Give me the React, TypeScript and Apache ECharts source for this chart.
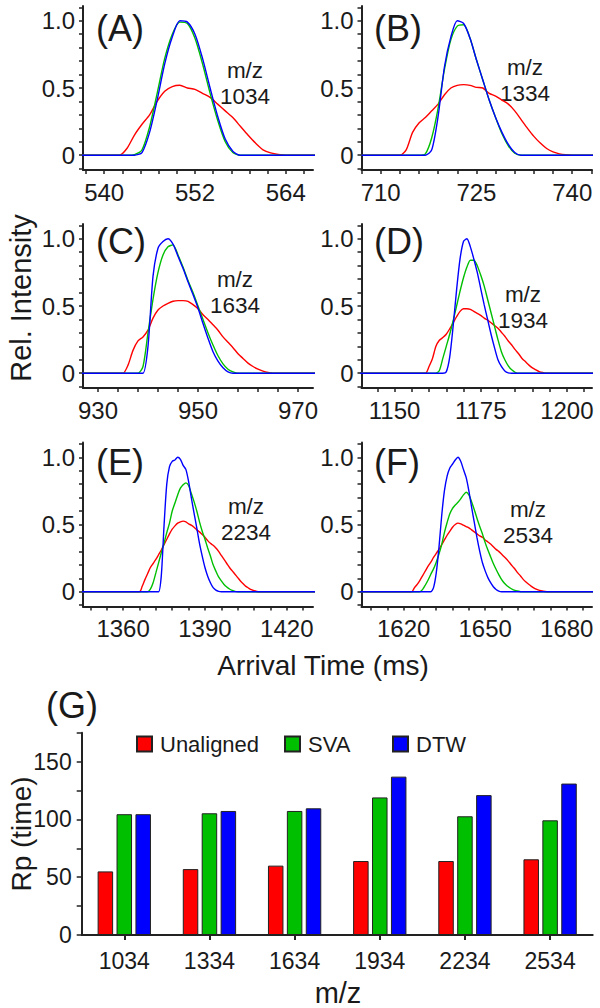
import React, { useEffect, useRef } from "react";
import * as echarts from "echarts";

const FONT = '"Liberation Sans", Arial, Helvetica, sans-serif';
const TXT = "#1a1a1a";
const AXIS = "#222222";
const RED = "#ff0000";
const GREEN = "#00bf00";
const BLUE = "#0000ff";

// ---------- Panels A–F: arrival time distributions ----------
const panelTitles = ["(A)", "(B)", "(C)", "(D)", "(E)", "(F)"];
const panelMz = ["1034", "1334", "1634", "1934", "2234", "2534"];

const xA = [537, 542, 543, 544, 545, 546, 547, 548, 549, 550, 551, 552, 553, 554, 555, 556, 557, 558, 559, 560, 561, 562, 563, 564, 568];
const redA = [0, 0, 0.05, 0.15, 0.23, 0.3, 0.4, 0.475, 0.51, 0.52, 0.5, 0.49, 0.46, 0.43, 0.38, 0.33, 0.28, 0.215, 0.15, 0.09, 0.04, 0.017, 0.005, 0, 0];
const greenA = [0, 0, 0, 0.005, 0.04, 0.21, 0.46, 0.72, 0.9, 0.99, 0.98, 0.87, 0.68, 0.46, 0.26, 0.1, 0.02, 0, 0, 0, 0, 0, 0, 0, 0];
const blueA = [0, 0, 0, 0, 0.02, 0.17, 0.41, 0.68, 0.88, 1.0, 0.99, 0.9, 0.72, 0.5, 0.29, 0.12, 0.03, 0, 0, 0, 0, 0, 0, 0, 0];

const xB = [707, 712, 713, 714, 715, 716, 717, 718, 719, 720, 721, 722, 723, 724, 725, 726, 727, 728, 729, 730, 731, 732, 733, 734, 735, 736, 737, 738, 739, 740, 741, 744];
const redB = [0, 0, 0, 0.04, 0.17, 0.24, 0.28, 0.33, 0.38, 0.45, 0.5, 0.52, 0.525, 0.52, 0.505, 0.5, 0.46, 0.44, 0.41, 0.38, 0.33, 0.265, 0.2, 0.14, 0.09, 0.05, 0.025, 0.01, 0.003, 0, 0, 0];
const greenB = [0, 0, 0, 0, 0, 0, 0.01, 0.13, 0.35, 0.64, 0.86, 0.96, 0.97, 0.87, 0.71, 0.56, 0.41, 0.28, 0.16, 0.07, 0.015, 0, 0, 0, 0, 0, 0, 0, 0, 0, 0, 0];
const blueB = [0, 0, 0, 0, 0, 0, 0, 0.04, 0.29, 0.66, 0.88, 1.0, 0.98, 0.87, 0.71, 0.56, 0.41, 0.28, 0.17, 0.08, 0.02, 0, 0, 0, 0, 0, 0, 0, 0, 0, 0, 0];

const xC = [926, 934, 935, 936, 937, 938, 939, 940, 941, 942, 943, 944, 945, 946, 947, 948, 949, 950, 951, 952, 953, 954, 955, 956, 957, 958, 959, 960, 961, 962, 963, 964, 965, 966, 974];
const redC = [0, 0, 0, 0.06, 0.17, 0.24, 0.27, 0.32, 0.41, 0.47, 0.5, 0.52, 0.535, 0.54, 0.54, 0.535, 0.51, 0.48, 0.435, 0.4, 0.36, 0.32, 0.27, 0.23, 0.19, 0.145, 0.11, 0.075, 0.05, 0.03, 0.015, 0.005, 0, 0, 0];
const greenC = [0, 0, 0, 0, 0, 0, 0.05, 0.3, 0.55, 0.75, 0.88, 0.94, 0.955, 0.88, 0.79, 0.69, 0.6, 0.5, 0.4, 0.3, 0.21, 0.13, 0.07, 0.03, 0.01, 0, 0, 0, 0, 0, 0, 0, 0, 0, 0];
const blueC = [0, 0, 0, 0, 0, 0, 0, 0.2, 0.72, 0.93, 0.98, 1.0, 0.96, 0.87, 0.78, 0.68, 0.585, 0.485, 0.37, 0.26, 0.16, 0.09, 0.04, 0.01, 0, 0, 0, 0, 0, 0, 0, 0, 0, 0, 0];

const xD = [1140, 1158, 1159, 1160, 1161, 1162, 1163, 1164, 1165, 1166, 1167, 1168, 1169, 1170, 1171, 1172, 1173, 1174, 1175, 1176, 1177, 1178, 1179, 1180, 1181, 1182, 1183, 1184, 1185, 1186, 1187, 1188, 1189, 1190, 1191, 1192, 1193, 1194, 1195, 1208];
const redD = [0, 0, 0, 0.05, 0.11, 0.2, 0.245, 0.265, 0.29, 0.33, 0.375, 0.42, 0.46, 0.48, 0.48, 0.475, 0.46, 0.445, 0.43, 0.41, 0.395, 0.375, 0.355, 0.335, 0.305, 0.275, 0.24, 0.21, 0.175, 0.145, 0.11, 0.085, 0.06, 0.04, 0.025, 0.012, 0.005, 0, 0, 0];
const greenD = [0, 0, 0, 0, 0, 0, 0.02, 0.11, 0.2, 0.29, 0.39, 0.5, 0.61, 0.71, 0.79, 0.84, 0.84, 0.8, 0.73, 0.65, 0.55, 0.45, 0.35, 0.25, 0.16, 0.1, 0.055, 0.025, 0.007, 0, 0, 0, 0, 0, 0, 0, 0, 0, 0, 0];
const blueD = [0, 0, 0, 0, 0, 0, 0, 0, 0.01, 0.12, 0.35, 0.62, 0.85, 0.98, 1.0, 0.94, 0.85, 0.75, 0.63, 0.51, 0.4, 0.29, 0.19, 0.1, 0.05, 0.017, 0.003, 0, 0, 0, 0, 0, 0, 0, 0, 0, 0, 0, 0, 0];

const xE = [1344, 1366, 1367, 1368, 1369, 1370, 1371, 1372, 1373, 1374, 1375, 1376, 1377, 1378, 1379, 1380, 1381, 1382, 1383, 1384, 1385, 1386, 1387, 1388, 1389, 1390, 1391, 1392, 1393, 1394, 1395, 1396, 1397, 1398, 1399, 1400, 1401, 1402, 1403, 1404, 1405, 1406, 1407, 1408, 1409, 1410, 1432];
const redE = [0, 0, 0.04, 0.09, 0.135, 0.18, 0.21, 0.24, 0.275, 0.31, 0.35, 0.39, 0.43, 0.465, 0.49, 0.51, 0.52, 0.525, 0.52, 0.505, 0.495, 0.48, 0.46, 0.445, 0.425, 0.405, 0.38, 0.36, 0.345, 0.325, 0.3, 0.27, 0.24, 0.21, 0.18, 0.155, 0.13, 0.105, 0.08, 0.06, 0.04, 0.027, 0.015, 0.007, 0.002, 0, 0];
const greenE = [0, 0, 0, 0, 0, 0.02, 0.067, 0.14, 0.215, 0.29, 0.36, 0.44, 0.51, 0.6, 0.66, 0.72, 0.77, 0.795, 0.81, 0.79, 0.73, 0.67, 0.6, 0.52, 0.45, 0.39, 0.325, 0.265, 0.2, 0.153, 0.11, 0.08, 0.054, 0.035, 0.02, 0.01, 0.003, 0, 0, 0, 0, 0, 0, 0, 0, 0, 0];
const blueE = [0, 0, 0, 0, 0, 0, 0, 0, 0, 0.12, 0.49, 0.8, 0.93, 0.97, 0.98, 1.0, 0.985, 0.94, 0.91, 0.82, 0.7, 0.585, 0.475, 0.36, 0.265, 0.18, 0.115, 0.067, 0.03, 0.012, 0.003, 0, 0, 0, 0, 0, 0, 0, 0, 0, 0, 0, 0, 0, 0, 0, 0];

const xF = [1604, 1622, 1623, 1624, 1625, 1626, 1627, 1628, 1629, 1630, 1631, 1632, 1633, 1634, 1635, 1636, 1637, 1638, 1639, 1640, 1641, 1642, 1643, 1644, 1645, 1646, 1647, 1648, 1649, 1650, 1651, 1652, 1653, 1654, 1655, 1656, 1657, 1658, 1659, 1660, 1661, 1662, 1663, 1664, 1665, 1666, 1667, 1668, 1669, 1670, 1671, 1672, 1673, 1690];
const redF = [0, 0, 0, 0.03, 0.055, 0.085, 0.12, 0.155, 0.19, 0.22, 0.255, 0.285, 0.315, 0.35, 0.385, 0.42, 0.45, 0.48, 0.5, 0.51, 0.505, 0.495, 0.485, 0.475, 0.46, 0.445, 0.43, 0.415, 0.405, 0.385, 0.37, 0.355, 0.335, 0.315, 0.3, 0.28, 0.26, 0.24, 0.215, 0.19, 0.167, 0.14, 0.117, 0.092, 0.072, 0.055, 0.04, 0.027, 0.017, 0.01, 0.005, 0.002, 0, 0];
const greenF = [0, 0, 0, 0, 0, 0, 0.017, 0.05, 0.087, 0.13, 0.17, 0.22, 0.28, 0.35, 0.44, 0.515, 0.58, 0.62, 0.645, 0.665, 0.69, 0.72, 0.74, 0.72, 0.67, 0.61, 0.545, 0.485, 0.43, 0.365, 0.31, 0.26, 0.21, 0.167, 0.127, 0.092, 0.065, 0.045, 0.03, 0.017, 0.01, 0.005, 0, 0, 0, 0, 0, 0, 0, 0, 0, 0, 0, 0];
const blueF = [0, 0, 0, 0, 0, 0, 0, 0, 0, 0, 0.03, 0.14, 0.33, 0.565, 0.75, 0.86, 0.92, 0.95, 0.98, 1.0, 0.97, 0.91, 0.85, 0.75, 0.63, 0.515, 0.4, 0.3, 0.215, 0.155, 0.105, 0.067, 0.037, 0.017, 0.005, 0, 0, 0, 0, 0, 0, 0, 0, 0, 0, 0, 0, 0, 0, 0, 0, 0, 0, 0];

const panelX = [xA, xB, xC, xD, xE, xF];
const panelRed = [redA, redB, redC, redD, redE, redF];
const panelGreen = [greenA, greenB, greenC, greenD, greenE, greenF];
const panelBlue = [blueA, blueB, blueC, blueD, blueE, blueF];

// axis ranges and tick labels of the six time panels
const xMins = [537.2, 707, 927, 1140.4, 1345.3, 1604.5];
const xMaxs = [567.6, 743.1, 973, 1207.3, 1429.6, 1689.3];
const xLabelValues = [
  [540, 552, 564],
  [710, 725, 740],
  [930, 950, 970],
  [1150, 1175, 1200],
  [1360, 1390, 1420],
  [1620, 1650, 1680],
];
const xTickStep = [2.4, 3, 4, 5, 6, 6];
const yLabelValues = [0, 0.5, 1.0];

// ---------- Panel G: resolving power ----------
const mzCategories = ["1034", "1334", "1634", "1934", "2234", "2534"];
const rpUnaligned = [55, 57, 60, 64, 64, 65.5];
const rpSVA = [104.5, 105.3, 107.3, 119, 102.7, 99.2];
const rpDTW = [104.5, 107.3, 109.6, 137, 121, 131];

// layout
const gridLeft = [83, 361.5, 83, 361.5, 83, 361.5];
const gridTop = [6, 6, 224, 224, 442.5, 442.5];
const gridWidth = [230, 230.5, 230, 230.5, 230, 230.5];
const GRID_H = 164;
const Y_MIN = -0.11;
const Y_MAX = 1.11;

function tickRange(anchor: number, step: number, lo: number, hi: number) {
  const out: number[] = [];
  const k0 = Math.ceil((lo - anchor) / step - 1e-9);
  const k1 = Math.floor((hi - anchor) / step + 1e-9);
  for (let k = k0; k <= k1; k++) out.push(Math.round((anchor + k * step) * 1000) / 1000);
  return out;
}

function buildOption() {
  const grid: any[] = [];
  const xAxis: any[] = [];
  const yAxis: any[] = [];
  const series: any[] = [];
  const graphic: any[] = [];

  const yTicks = tickRange(0, 0.1, Y_MIN, Y_MAX);

  for (let i = 0; i < 6; i++) {
    grid.push({ left: gridLeft[i], top: gridTop[i], width: gridWidth[i], height: GRID_H, containLabel: false });
    xAxis.push({
      type: "value",
      gridIndex: i,
      min: xMins[i],
      max: xMaxs[i],
      axisLine: { show: true, onZero: false, lineStyle: { color: AXIS, width: 2 } },
      axisTick: {
        show: true,
        inside: false,
        length: 4,
        customValues: tickRange(xLabelValues[i][0], xTickStep[i], xMins[i], xMaxs[i]),
        lineStyle: { color: AXIS, width: 1.5 },
      },
      axisLabel: {
        customValues: xLabelValues[i],
        formatter: (v: number) => String(Math.round(v)),
        margin: 10,
        fontSize: 24,
        color: TXT,
        fontFamily: FONT,
      },
      splitLine: { show: false },
    });
    yAxis.push({
      type: "value",
      gridIndex: i,
      min: Y_MIN,
      max: Y_MAX,
      axisLine: { show: true, onZero: false, lineStyle: { color: AXIS, width: 2 } },
      axisTick: {
        show: true,
        inside: false,
        length: 4,
        customValues: yTicks,
        lineStyle: { color: AXIS, width: 1.5 },
      },
      axisLabel: {
        customValues: yLabelValues,
        formatter: (v: number) => (Math.abs(v) < 1e-9 ? "0" : v.toFixed(1)),
        margin: 8,
        fontSize: 24,
        color: TXT,
        fontFamily: FONT,
      },
      splitLine: { show: false },
    });

    const xs = panelX[i];
    const mk = (ys: number[], color: string, z: number) => ({
      type: "line",
      xAxisIndex: i,
      yAxisIndex: i,
      data: xs.map((x, j) => [x, ys[j] ?? 0]),
      showSymbol: false,
      symbol: "none",
      smooth: 0.25,
      silent: true,
      z,
      lineStyle: { color, width: 1.4 },
      itemStyle: { color },
    });
    series.push(mk(panelRed[i], RED, 2));
    series.push(mk(panelGreen[i], GREEN, 3));
    series.push(mk(panelBlue[i], BLUE, 4));
  }

  // Panel G grid
  grid.push({ left: 81.7, top: 732.7, width: 511, height: 202.3, containLabel: false });
  xAxis.push({
    type: "category",
    gridIndex: 6,
    data: mzCategories,
    axisLine: { show: true, lineStyle: { color: AXIS, width: 2 } },
    axisTick: { show: true, alignWithLabel: true, length: 5, lineStyle: { color: AXIS, width: 2 } },
    axisLabel: { margin: 14, fontSize: 23, color: TXT, fontFamily: FONT },
    splitLine: { show: false },
  });
  yAxis.push({
    type: "value",
    gridIndex: 6,
    min: 0,
    max: 175,
    interval: 25,
    axisLine: { show: true, lineStyle: { color: AXIS, width: 2 } },
    axisTick: { show: true, length: 5, lineStyle: { color: AXIS, width: 1.5 } },
    axisLabel: {
      formatter: (v: number) => (v % 50 === 0 ? String(v) : ""),
      margin: 10,
      fontSize: 23,
      color: TXT,
      fontFamily: FONT,
    },
    splitLine: { show: false },
  });
  const bar = (name: string, data: number[], color: string) => ({
    type: "bar",
    name,
    xAxisIndex: 6,
    yAxisIndex: 6,
    data,
    barWidth: 15.5,
    barGap: "22%",
    itemStyle: { color, borderColor: "#222", borderWidth: 1 },
  });
  series.push(bar("Unaligned", rpUnaligned, RED));
  series.push(bar("SVA", rpSVA, GREEN));
  series.push(bar("DTW", rpDTW, BLUE));

  const legendBase = {
    orient: "horizontal",
    itemWidth: 15,
    itemHeight: 15,
    icon: "rect",
    padding: 0,
    itemGap: 0,
    top: 733,
    textStyle: { fontSize: 22, color: TXT, fontFamily: FONT, padding: [0, 0, 0, 3] },
  };
  const legend = [
    { ...legendBase, data: ["Unaligned"], left: 136 },
    { ...legendBase, data: ["SVA"], left: 284 },
    { ...legendBase, data: ["DTW"], left: 392 },
  ];

  // texts
  const titleX = [96, 374, 96, 374, 96, 374];
  const titleY = [28, 28, 241, 241, 462, 462];
  const mzX = [245, 525, 235, 523, 246, 528];
  const mzY = [83, 80, 292.5, 307.5, 519, 522.5];
  for (let i = 0; i < 6; i++) {
    graphic.push({
      type: "text",
      x: titleX[i],
      y: titleY[i],
      silent: true,
      style: { text: panelTitles[i], fontSize: 36, fontFamily: FONT, fill: TXT, align: "left", verticalAlign: "middle" },
    });
    graphic.push({
      type: "text",
      x: mzX[i],
      y: mzY[i],
      silent: true,
      style: {
        text: "m/z\n" + panelMz[i],
        fontSize: 22.5,
        lineHeight: 26,
        fontFamily: FONT,
        fill: TXT,
        align: "center",
        verticalAlign: "middle",
      },
    });
  }
  graphic.push({
    type: "text",
    x: 46,
    y: 705,
    silent: true,
    style: { text: "(G)", fontSize: 36, fontFamily: FONT, fill: TXT, align: "left", verticalAlign: "middle" },
  });
  graphic.push({
    type: "text",
    x: 21,
    y: 298,
    rotation: Math.PI / 2,
    silent: true,
    style: { text: "Rel. Intensity", fontSize: 29, fontFamily: FONT, fill: TXT, align: "center", verticalAlign: "middle" },
  });
  graphic.push({
    type: "text",
    x: 323,
    y: 665,
    silent: true,
    style: { text: "Arrival Time (ms)", fontSize: 28, fontFamily: FONT, fill: TXT, align: "center", verticalAlign: "middle" },
  });
  graphic.push({
    type: "text",
    x: 21,
    y: 834,
    rotation: Math.PI / 2,
    silent: true,
    style: { text: "Rp (time)", fontSize: 28, fontFamily: FONT, fill: TXT, align: "center", verticalAlign: "middle" },
  });
  graphic.push({
    type: "text",
    x: 338,
    y: 993,
    silent: true,
    style: { text: "m/z", fontSize: 29, fontFamily: FONT, fill: TXT, align: "center", verticalAlign: "middle" },
  });

  return {
    animation: false,
    backgroundColor: "#ffffff",
    textStyle: { fontFamily: FONT },
    grid,
    xAxis,
    yAxis,
    series,
    legend,
    graphic,
  };
}

export default function App() {
  const ref = useRef<HTMLDivElement>(null);
  useEffect(() => {
    document.body.style.margin = "0";
    const chart = echarts.init(ref.current as HTMLDivElement, null, { renderer: "svg" });
    chart.setOption(buildOption() as any);
    return () => {
      chart.dispose();
    };
  }, []);
  return <div ref={ref} style={{ width: 600, height: 1008 }} />;
}
